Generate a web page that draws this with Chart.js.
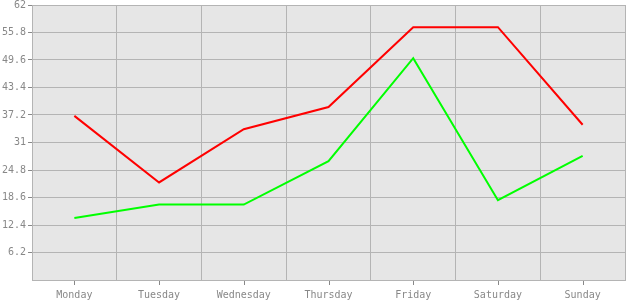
<!DOCTYPE html>
<html>
<head>
<meta charset="utf-8">
<script src="https://cdn.jsdelivr.net/npm/chart.js@4/dist/chart.umd.min.js"></script>
<style>
  html, body { margin: 0; padding: 0; background: #fff; }
  #wrap { width: 630px; height: 300px; }
</style>
</head>
<body>
<div id="wrap"><canvas id="c"></canvas></div>
<script>
// data
const days = ['Monday', 'Tuesday', 'Wednesday', 'Thursday', 'Friday', 'Saturday', 'Sunday'];
const redValues = [37, 22, 34, 39, 57, 57, 35];
const greenValues = [14, 17, 17, 26.8, 50, 18, 28];
const yMin = 0;
const yMax = 62;
const yStep = 6.2;

// plot background + centre tick marks under x axis
const plotBg = {
    id: 'plotBg',
    beforeDraw(chart) {
        const { ctx, chartArea: a } = chart;
        ctx.save();
        ctx.fillStyle = '#e6e6e6';
        ctx.fillRect(a.left, a.top, a.right - a.left, a.bottom - a.top);
        ctx.restore();
    },
    afterDraw(chart) {
        const { ctx, chartArea: a } = chart;
        const x = chart.scales.x;
        ctx.save();
        ctx.strokeStyle = '#888';
        ctx.lineWidth = 1;
        days.forEach((d, i) => {
            const px = Math.round(x.getPixelForValue(i)) + 0.5;
            ctx.beginPath();
            ctx.moveTo(px, a.bottom + 1);
            ctx.lineTo(px, a.bottom + 5);
            ctx.stroke();
        });
        ctx.restore();
    }
};

new Chart(document.getElementById('c'), {
    type: 'line',
    data: {
        labels: days,
        datasets: [
            {
                data: redValues,
                borderColor: '#ff0000',
                borderWidth: 2,
                pointRadius: 0,
                tension: 0,
                fill: false
            },
            {
                data: greenValues,
                borderColor: '#00ff00',
                borderWidth: 2,
                pointRadius: 0,
                tension: 0,
                fill: false
            }
        ]
    },
    options: {
        responsive: true,
        maintainAspectRatio: false,
        animation: false,
        layout: { padding: { top: 5, right: 5, bottom: 0, left: 0 } },
        plugins: {
            legend: { display: false },
            tooltip: { enabled: false }
        },
        scales: {
            x: {
                offset: true,
                grid: {
                    offset: true,
                    color: '#b4b4b4',
                    drawTicks: false
                },
                border: { color: '#b4b4b4' },
                ticks: {
                    color: '#888',
                    padding: 9,
                    maxRotation: 0,
                    font: { family: 'DejaVu Sans Mono', size: 10 }
                },
                afterFit: s => { s.height = 20; }
            },
            y: {
                min: yMin,
                max: yMax,
                grid: {
                    color: '#b4b4b4',
                    tickLength: 4,
                    tickColor: c => c.tick && c.tick.value === 0 ? 'rgba(0,0,0,0)' : '#888'
                },
                border: { color: '#b4b4b4' },
                ticks: {
                    stepSize: yStep,
                    color: '#888',
                    padding: 2,
                    font: { family: 'DejaVu Sans Mono', size: 10 },
                    callback: v => v === 0 ? '' : String(Math.round(v * 10) / 10)
                },
                afterFit: s => { s.width = 32; s.paddingTop = 0; s.paddingBottom = 0; }
            }
        }
    },
    plugins: [plotBg]
});
</script>
</body>
</html>
